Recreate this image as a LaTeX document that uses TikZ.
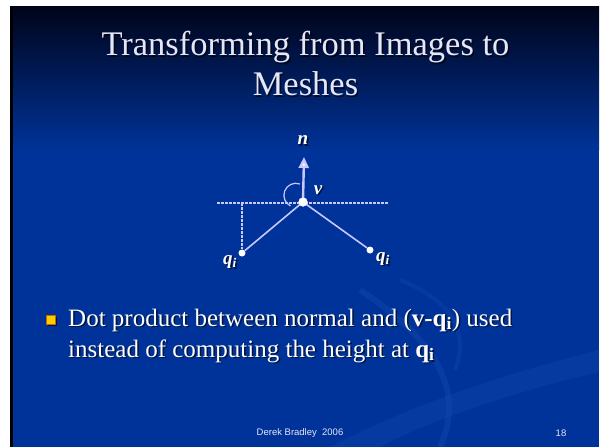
\documentclass[tikz,border=0pt]{standalone}
\usepackage{fontspec}
\setmainfont{Liberation Serif}
\newfontfamily\footfont{Liberation Sans}
\usetikzlibrary{arrows.meta}
\definecolor{slideblue}{HTML}{003399}
\definecolor{topdark}{HTML}{00041A}
\definecolor{titlecol}{HTML}{E6E6FA}
\definecolor{linecol}{HTML}{C8C8FF}
\definecolor{swoosh}{HTML}{1A4DB3}
\definecolor{bulletyellow}{HTML}{FFCC00}
\tikzset{
  geomline/.style={draw=linecol, line width=1.6pt},
  guideline/.style={draw=linecol, line width=1.2pt, dash pattern=on 3pt off 1pt},
  ptdot/.style={circle, fill=white, inner sep=0pt, minimum size=7pt},
  lbl/.style={text=white, font=\bfseries\itshape\fontsize{19}{19}\selectfont, inner sep=0pt},
  lblshadow/.style={lbl, text=black, opacity=0.7},
  bodytxt/.style={text=white, font=\fontsize{25}{31}\selectfont, inner sep=0pt, anchor=base west},
  bodyshadow/.style={bodytxt, text=black, opacity=0.6},
  titletxt/.style={font=\fontsize{34.5}{40}\selectfont, align=center},
  foottxt/.style={text=titlecol, font=\footfont\fontsize{9.5}{10}\selectfont, inner sep=0pt}
}
\begin{document}
\begin{tikzpicture}[x=1pt,y=-1pt]
\useasboundingbox (0,0) rectangle (600,447);
\fill[white] (0,0) rectangle (600,447);
\fill[slideblue] (10,150) rectangle (599,447);
\shade[top color=topdark, bottom color=slideblue] (10,6) rectangle (599,150.5);
% decorative swooshes
\fill[swoosh, opacity=0.3] (330,447) .. controls (420,400) and (520,370) .. (599,350) -- (599,372) .. controls (520,390) and (430,420) .. (380,447) -- cycle;
\draw[swoosh, opacity=0.35, line width=6pt] (440,447) .. controls (470,380) and (420,330) .. (360,290);
\draw[swoosh, opacity=0.3, line width=4pt] (400,280) .. controls (450,300) and (470,330) .. (455,370);
\fill[black] (10,6) rectangle (13,447);
% title
\node[titletxt, text=black, opacity=0.6] at (307,65.5) {Transforming from Images to\\Meshes};
\node[titletxt, text=titlecol] (title) at (305.5,64) {Transforming from Images to\\Meshes};
% diagram
\coordinate (hl) at (217,203);
\coordinate (hr) at (389,203);
\coordinate (foot) at (242,203);
\coordinate (ntip) at (304,157);
\coordinate (arcstart) at (300,184);
\node[ptdot, minimum size=9pt] (v) at (303,202) {};
\node[ptdot] (ql) at (242,253) {};
\node[ptdot] (qr) at (370,250) {};
\draw[guideline] (hl) -- (hr);
\draw[guideline] (foot) -- (ql);
\draw[geomline] (v.center) -- (ql);
\draw[geomline] (v.center) -- (qr);
\draw[draw=linecol, line width=2.4pt, -{Triangle[length=11pt,width=10pt,fill=white]}] (v.center) -- (ntip);
\draw[draw=linecol, line width=1.2pt] (arcstart) arc[start angle=-70, end angle=-243, radius=12];
\node[ptdot, minimum size=9pt] at (v) {};
% labels
\node[lblshadow] at (304.5,142) {n};
\node[lbl] (nlab) at (303,140.5) {n};
\node[lblshadow] at (319.5,191.5) {v};
\node[lbl] (vlab) at (318,190) {v};
\node[lblshadow] at (231.5,263.5) {q\textsubscript{i}};
\node[lbl] (qllab) at (230,262) {q\textsubscript{i}};
\node[lblshadow] at (384.5,260.5) {q\textsubscript{i}};
\node[lbl] (qrlab) at (383,259) {q\textsubscript{i}};
% bullet
\fill[black, opacity=0.6] (47.5,316.5) rectangle (56.5,325.5);
\draw[fill=bulletyellow, draw=orange!80!black, line width=0.6pt] (46,315) rectangle (55,324);
\node[bodyshadow] at (69.5,327.5) {Dot product between normal and (\textbf{v-q}\textsubscript{\textbf{i}}) used};
\node[bodytxt] (body1) at (68,326) {Dot product between normal and (\textbf{v-q}\textsubscript{\textbf{i}}) used};
\node[bodyshadow] at (69.5,358.5) {instead of computing the height at \textbf{q}\textsubscript{\textbf{i}}};
\node[bodytxt] (body2) at (68,357) {instead of computing the height at \textbf{q}\textsubscript{\textbf{i}}};
% footer
\node[foottxt] (footer) at (300,433) {Derek Bradley\ \ 2006};
\node[foottxt] (pnum) at (561,433) {18};
\end{tikzpicture}
\end{document}
